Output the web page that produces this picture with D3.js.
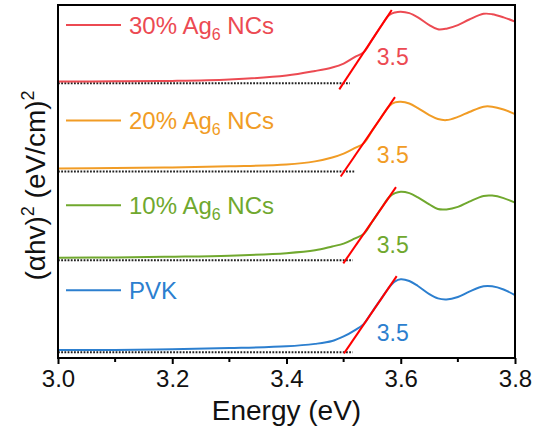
<!DOCTYPE html>
<html>
<head>
<meta charset="utf-8">
<script src="https://cdn.jsdelivr.net/npm/d3@7/dist/d3.min.js"></script>
<style>
  html, body { margin: 0; padding: 0; background: #fff; }
  svg { display: block; font-family: "Liberation Sans", Arial, sans-serif; }
</style>
</head>
<body>
<svg id="chart" width="536" height="436"></svg>
<script>
// Photon energy (eV) of each sample point
const energy = [3.00, 3.10, 3.20, 3.30, 3.40, 3.45, 3.48, 3.50, 3.52, 3.535, 3.55, 3.565,
                3.58, 3.59, 3.60, 3.615, 3.63, 3.65, 3.665, 3.68, 3.70, 3.72, 3.745, 3.76, 3.78, 3.80];

// (αhν)² traces, stacked with vertical offsets (arb. units)
const pvk   = [0.23, 0.23, 0.25, 0.28, 0.33, 0.40, 0.48, 0.61, 0.79, 0.96, 1.31, 1.66,
               2.01, 2.17, 2.23, 2.18, 2.04, 1.81, 1.69, 1.66, 1.73, 1.88, 2.03, 2.03, 1.94, 1.78];
const ag10  = [2.84, 2.85, 2.87, 2.90, 2.97, 3.05, 3.16, 3.24, 3.39, 3.51, 3.86, 4.22,
               4.56, 4.67, 4.71, 4.67, 4.55, 4.35, 4.22, 4.21, 4.28, 4.43, 4.59, 4.60, 4.53, 4.40];
const ag20  = [5.37, 5.38, 5.40, 5.43, 5.48, 5.57, 5.68, 5.79, 5.95, 6.08, 6.44, 6.80,
               7.14, 7.24, 7.26, 7.21, 7.08, 6.88, 6.77, 6.74, 6.83, 6.97, 7.12, 7.12, 7.04, 6.91];
const ag30  = [7.83, 7.84, 7.85, 7.89, 8.00, 8.13, 8.23, 8.34, 8.53, 8.66, 9.02, 9.39,
               9.72, 9.79, 9.81, 9.77, 9.65, 9.43, 9.31, 9.33, 9.43, 9.59, 9.75, 9.74, 9.65, 9.53];

const seriesNames  = ["PVK", "10% Ag", "20% Ag", "30% Ag"];
const seriesColors = ["#2c7fcf", "#70a82e", "#f19c25", "#ec4a52"];
const seriesValues = [pvk, ag10, ag20, ag30];

// Baselines (dotted) : level and end energy
const baseLevel = [0.16, 2.77, 5.28, 7.78];
const baseEnd   = [3.516, 3.516, 3.52, 3.511];

// Linear fits of the absorption edge: [E start, value start, E end, value end]
const fitLines = [
  [3.5007, 0.13, 3.5929, 2.32],
  [3.4994, 2.68, 3.5917, 4.84],
  [3.4949, 5.14, 3.5899, 7.39],
  [3.4924, 7.61, 3.5842, 9.86]
];

// Band-gap labels and their anchor points
const gapText   = ["3.5", "3.5", "3.5", "3.5"];
const gapAnchor = [[3.586, 0.49], [3.586, 2.98], [3.586, 5.52], [3.586, 8.30]];

const xTicks = [3.0, 3.2, 3.4, 3.6, 3.8];
const xMinorTicks = [3.1, 3.3, 3.5, 3.7];

const svg = d3.select("#chart");
const margin = { left: 58, right: 21, top: 5, bottom: 78 };
const W = 536, H = 436;

const x = d3.scaleLinear().domain([3.0, 3.8]).range([margin.left, W - margin.right]);
const y = d3.scaleLinear().domain([0, 10]).range([H - margin.bottom, margin.top]);

const line = d3.line()
  .x(d => x(d[0]))
  .y(d => y(d[1]))
  .curve(d3.curveCatmullRom.alpha(0.5));

// Dotted baselines
svg.append("g").selectAll("line").data(baseLevel).join("line")
  .attr("x1", x(3.0)).attr("x2", (d, i) => x(baseEnd[i]))
  .attr("y1", d => y(d)).attr("y2", d => y(d))
  .attr("stroke", "#222").attr("stroke-width", 2)
  .attr("stroke-dasharray", "1.8,1.4");

// Spectra
svg.append("g").selectAll("path").data(seriesValues).join("path")
  .attr("d", vals => line(energy.map((e, i) => [e, vals[i]])))
  .attr("fill", "none")
  .attr("stroke", (d, i) => seriesColors[i])
  .attr("stroke-width", 2);

// Edge fits
svg.append("g").selectAll("line").data(fitLines).join("line")
  .attr("x1", d => x(d[0])).attr("y1", d => y(d[1]))
  .attr("x2", d => x(d[2])).attr("y2", d => y(d[3]))
  .attr("stroke", "#ff0000").attr("stroke-width", 2);

// Band-gap values
svg.append("g").selectAll("text").data(gapText).join("text")
  .attr("x", (d, i) => x(gapAnchor[i][0]))
  .attr("y", (d, i) => y(gapAnchor[i][1]))
  .attr("text-anchor", "middle")
  .attr("font-size", 23)
  .attr("fill", (d, i) => seriesColors[i])
  .text(d => d);

// Frame
svg.append("rect")
  .attr("x", x(3.0)).attr("y", y(10))
  .attr("width", x(3.8) - x(3.0)).attr("height", y(0) - y(10))
  .attr("fill", "none").attr("stroke", "#000").attr("stroke-width", 2);

// Bottom axis
const xAxis = d3.axisBottom(x).tickValues(xTicks).tickFormat(d3.format(".1f"))
  .tickSize(6).tickSizeOuter(0).tickPadding(6);
const gx = svg.append("g").attr("transform", `translate(0,${y(0)})`).call(xAxis);
gx.select(".domain").remove();
gx.selectAll(".tick line").attr("stroke", "#000").attr("stroke-width", 2);
gx.selectAll(".tick text").attr("font-size", 24).attr("fill", "#111")
  .attr("font-family", "'Liberation Sans', Arial, sans-serif");
svg.append("g").selectAll("line").data(xMinorTicks).join("line")
  .attr("x1", d => x(d)).attr("x2", d => x(d))
  .attr("y1", y(0)).attr("y2", y(0) + 4)
  .attr("stroke", "#000").attr("stroke-width", 2);

// Axis titles
svg.append("text")
  .attr("x", (x(3.0) + x(3.8)) / 2).attr("y", 420)
  .attr("text-anchor", "middle").attr("font-size", 28).attr("fill", "#111")
  .text("Energy (eV)");

const yt = svg.append("text")
  .attr("transform", `translate(45,${(y(0) + y(10)) / 2 + 4}) rotate(-90)`)
  .attr("text-anchor", "middle").attr("font-size", 28).attr("fill", "#111");
yt.append("tspan").text("(αhv)");
yt.append("tspan").attr("dy", -11).attr("font-size", 18).text("2");
yt.append("tspan").attr("dy", 11).text(" (eV/cm)");
yt.append("tspan").attr("dy", -11).attr("font-size", 18).text("2");

// Legend entries, each beside its own trace
const legendLevel = [1.92, 4.33, 6.73, 9.43];
const lg = svg.append("g").selectAll("g").data(seriesNames).join("g")
  .attr("transform", (d, i) => `translate(0,${y(legendLevel[i])})`);
lg.append("line")
  .attr("x1", 66).attr("x2", 121).attr("y1", 0).attr("y2", 0)
  .attr("stroke", (d, i) => seriesColors[i]).attr("stroke-width", 2);
const lt = lg.append("text")
  .attr("x", 129).attr("y", 8.5)
  .attr("font-size", 24)
  .attr("fill", (d, i) => seriesColors[i]);
lt.append("tspan").text(d => d);
lt.filter(d => d !== "PVK").append("tspan")
  .attr("dy", 6).attr("font-size", 16).text("6");
lt.filter(d => d !== "PVK").append("tspan")
  .attr("dy", -6).text(" NCs");
</script>
</body>
</html>
